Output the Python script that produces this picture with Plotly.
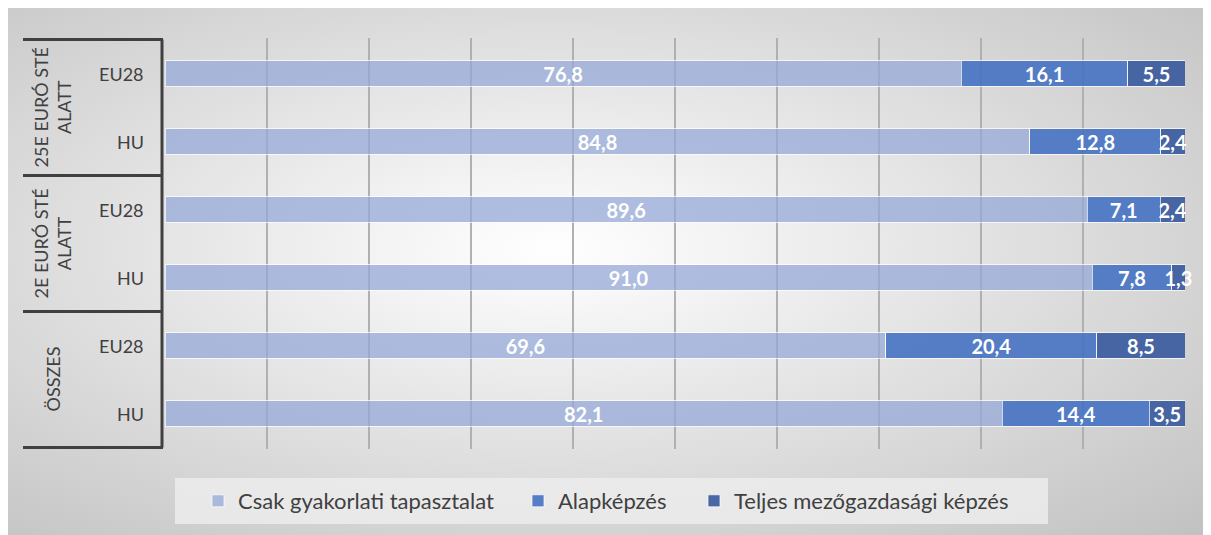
import base64
import plotly.graph_objects as go

# row keys, top to bottom
groups = ['25E EURÓ STÉ<br>ALATT', '2E EURÓ STÉ<br>ALATT', 'ÖSSZES']
rows = ['25E|EU28', '25E|HU', '2E|EU28', '2E|HU', 'ALL|EU28', 'ALL|HU']
row_labels = ['EU28', 'HU', 'EU28', 'HU', 'EU28', 'HU']

series_names = ['Csak gyakorlati tapasztalat', 'Alapképzés', 'Teljes mezőgazdasági képzés']
practice_only = [76.8, 84.8, 89.6, 91.0, 69.6, 82.1]
basic_training = [16.1, 12.8, 7.1, 7.8, 20.4, 14.4]
full_training = [5.5, 2.4, 2.4, 1.3, 8.5, 3.5]

colors = ['rgba(150,170,215,0.75)', 'rgba(70,114,195,0.9)', 'rgba(54,89,156,0.9)']
legend_ids = ['legend', 'legend2', 'legend3']
FONT = 'Lato'

fig = go.Figure()
for name, vals, col, lg in zip(series_names, [practice_only, basic_training, full_training], colors, legend_ids):
    fig.add_trace(go.Bar(
        y=rows, x=vals, name=name, orientation='h', legend=lg,
        marker=dict(color=col, line=dict(color='rgba(255,255,255,0.7)', width=1)),
        text=[f'{v:.1f}'.replace('.', ',') for v in vals],
        textposition='inside', insidetextanchor='middle', textangle=0,
        textfont=dict(family=FONT, size=20, color='white', weight='bold'),
        cliponaxis=False, hoverinfo='skip'))

# background gradient as an svg image
svg = ('<svg xmlns="http://www.w3.org/2000/svg" width="1211" height="535" preserveAspectRatio="none">'
       '<defs><radialGradient id="g" cx="0.45" cy="0.45" r="0.75">'
       '<stop offset="0" stop-color="#ffffff"/><stop offset="1" stop-color="#c2c2c2"/>'
       '</radialGradient></defs><rect width="1211" height="535" fill="url(#g)"/></svg>')
bg = 'data:image/svg+xml;base64,' + base64.b64encode(svg.encode()).decode()

W, H = 1211, 535
L, R, T, B = 157, 34, 30, 94
pw, ph = W - L - R, H - T - B


def px_x(x):
    return (x - L) / pw


def px_y(y):
    return (H - B - y) / ph


def legend_at(x):
    return dict(orientation='h', x=px_x(x), xanchor='left', y=px_y(493), yanchor='middle',
                bgcolor='rgba(0,0,0,0)', font=dict(family=FONT, size=22, color='#404040'))


fig.update_layout(
    width=W, height=H,
    margin=dict(l=L, r=R, t=T, b=B),
    barmode='stack', barnorm='percent', bargap=0.62,
    paper_bgcolor='#cacaca', plot_bgcolor='rgba(0,0,0,0)',
    uniformtext=dict(minsize=20, mode='show'),
    font=dict(family=FONT, color='#404040'),
    images=[dict(source=bg, xref='paper', yref='paper', x=px_x(0), y=px_y(0),
                 sizex=px_x(W) - px_x(0), sizey=px_y(0) - px_y(H),
                 xanchor='left', yanchor='top', sizing='stretch', layer='below')],
    legend=legend_at(190),
    legend2=legend_at(510),
    legend3=legend_at(686),
    showlegend=True,
)

fig.update_xaxes(range=[0, 100], dtick=10, showticklabels=False, showgrid=True,
                 gridcolor='#b0b0b0', gridwidth=1.5, zeroline=False, showline=False, fixedrange=True)
fig.update_yaxes(categoryorder='array', categoryarray=rows, autorange='reversed',
                 showticklabels=False, showgrid=False, zeroline=False, showline=False)

# sub-category labels
for r, lab in zip(rows, row_labels):
    fig.add_annotation(x=px_x(138), xref='paper', y=r, yref='y', text=lab, showarrow=False,
                       xanchor='right', yanchor='middle', font=dict(family=FONT, size=18, color='#404040'))

# group labels (rotated)
for i, g in enumerate(groups):
    fig.add_annotation(x=px_x(44), xref='paper', y=2 * i + 0.5, yref='y', text=g, showarrow=False,
                       textangle=-90, xanchor='center', yanchor='middle',
                       font=dict(family=FONT, size=18, color='#404040'))

# bracket lines of the category axis
for yb in [-0.5, 1.5, 3.5, 5.5]:
    fig.add_shape(type='line', xref='paper', yref='y', x0=px_x(15), x1=px_x(155), y0=yb, y1=yb,
                  line=dict(color='#404040', width=3))
fig.add_shape(type='line', xref='paper', yref='y', x0=px_x(154), x1=px_x(154), y0=-0.5, y1=5.5,
              line=dict(color='#404040', width=3))

# legend box
fig.add_shape(type='rect', xref='paper', yref='paper', x0=px_x(167), x1=px_x(1040),
              y0=px_y(516), y1=px_y(470), line=dict(width=0), fillcolor='rgba(236,236,236,0.85)',
              layer='below')

fig.write_html('out.html')
